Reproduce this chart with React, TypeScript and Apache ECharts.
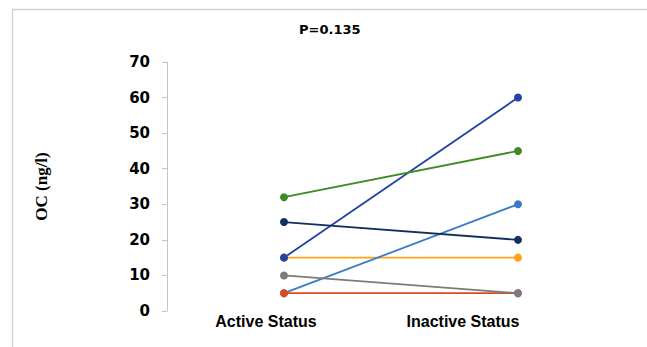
import React, { useEffect, useRef } from "react";
import * as echarts from "echarts";

const categories = ["Active Status", "Inactive Status"];
const yTicks = [0, 10, 20, 30, 40, 50, 60, 70];

const orangeVals = [15, 15];
const blueVals = [15, 60];
const lightBlueVals = [5, 30];
const redVals = [5, 5];
const grayVals = [10, 5];
const navyVals = [25, 20];
const greenVals = [32, 45];

const seriesList = [
  { name: "S1", data: orangeVals, color: "#ffa214" },
  { name: "S2", data: blueVals, color: "#2343a1" },
  { name: "S3", data: lightBlueVals, color: "#3a7bc8" },
  { name: "S4", data: redVals, color: "#dc4a1d" },
  { name: "S5", data: grayVals, color: "#7b7b7b" },
  { name: "S6", data: navyVals, color: "#12305f" },
  { name: "S7", data: greenVals, color: "#3e8a24" },
];

export default function App() {
  const ref = useRef<HTMLDivElement>(null);
  useEffect(() => {
    if (!ref.current) return;
    const chart = echarts.init(ref.current, null, { renderer: "svg" });
    chart.setOption({
      animation: false,
      backgroundColor: "#ffffff",
      title: {
        text: "P=0.135",
        left: 299,
        top: 23,
        padding: 0,
        textStyle: { fontFamily: "DejaVu Sans", fontWeight: "bold", fontSize: 13, color: "#000" },
      },
      grid: { left: 167, right: 12, top: 62, bottom: 36, containLabel: false },
      xAxis: {
        type: "category",
        data: categories,
        boundaryGap: true,
        axisLine: { show: false },
        axisTick: { show: false },
        axisLabel: {
          margin: 2,
          interval: 0,
          formatter: (v: string) => (v === categories[0] ? `{a|${v}}` : `{b|${v}}`),
          rich: {
            a: { fontFamily: "Liberation Sans", fontWeight: "bold", fontSize: 16, color: "#000", padding: [0, 36, 0, 0] },
            b: { fontFamily: "Liberation Sans", fontWeight: "bold", fontSize: 16, color: "#000", padding: [0, 110, 0, 0] },
          },
        },
      },
      yAxis: {
        type: "value",
        min: yTicks[0],
        max: yTicks[yTicks.length - 1],
        interval: 10,
        name: "OC (ng/l)",
        nameLocation: "middle",
        nameGap: 117,
        nameTextStyle: { fontFamily: "Liberation Serif", fontWeight: "bold", fontSize: 17, color: "#000" },
        axisLine: { show: true, lineStyle: { color: "#c4c4c4", width: 1 } },
        axisTick: { show: true, inside: false, length: 5, lineStyle: { color: "#c4c4c4" } },
        splitLine: { show: false },
        axisLabel: { margin: 17, fontFamily: "DejaVu Sans", fontWeight: "bold", fontSize: 15, color: "#000" },
      },
      series: seriesList.map((s) => ({
        type: "line",
        name: s.name,
        data: s.data,
        symbol: "circle",
        symbolSize: 8,
        lineStyle: { color: s.color, width: 1.8 },
        itemStyle: { color: s.color },
      })),
      graphic: [
        { type: "line", shape: { x1: 12, y1: 9.5, x2: 647, y2: 9.5 }, style: { stroke: "#d0d0d0", lineWidth: 1.3 } },
        { type: "line", shape: { x1: 12.5, y1: 9, x2: 12.5, y2: 347 }, style: { stroke: "#d0d0d0", lineWidth: 1.3 } },
      ],
    });
    return () => chart.dispose();
  }, []);
  return (
    <div
      ref={ref}
      style={{ position: "fixed", left: 0, top: 0, width: 647, height: 347 }}
    />
  );
}
